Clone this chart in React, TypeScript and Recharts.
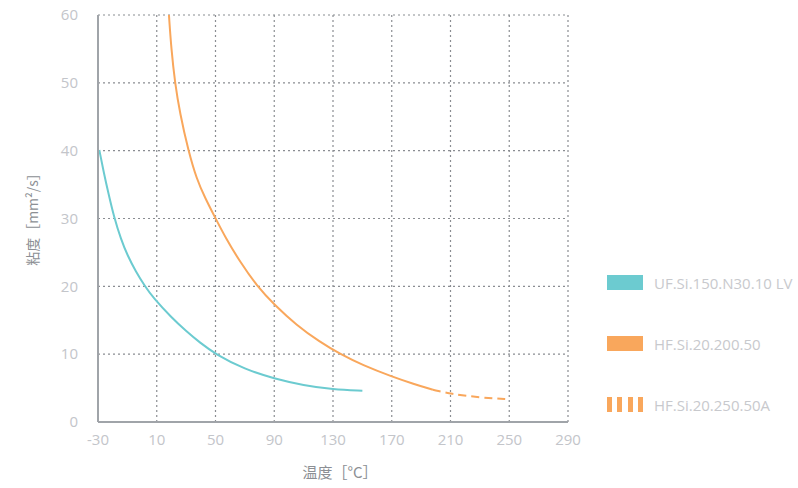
import React from "react";
import { LineChart, Line, XAxis, YAxis, CartesianGrid, Label } from "recharts";

const xTicks = [-30, 10, 50, 90, 130, 170, 210, 250, 290];
const yTicks = [0, 10, 20, 30, 40, 50, 60];

const seriesNames = ["UF.Si.150.N30.10 LV", "HF.Si.20.200.50", "HF.Si.20.250.50A"];

const ufTemp = [-29.1, -26, -23, -19.1, -14.3, -10, -4.3, 2, 7.6, 20, 30, 39.4, 50, 70, 90, 110, 130, 150];
const ufVisc = [40.1, 36.7, 33.8, 30.2, 26.9, 24.6, 22.2, 20.0, 18.3, 15.4, 13.4, 11.7, 10.0, 7.75, 6.4, 5.4, 4.8, 4.6];

const hfTemp = [18.3, 19.9, 22.4, 25.8, 31.5, 37.2, 42.8, 49.6, 56.5, 66.7, 78.4, 90, 105, 121, 135, 150, 170, 185, 198];
const hfVisc = [60, 55, 50, 45.5, 40, 35.8, 33.1, 30.2, 27.3, 23.6, 20, 17.3, 14.3, 11.8, 10.0, 8.4, 6.7, 5.6, 4.75];

const hfaTemp = [198, 210, 230, 250];
const hfaVisc = [4.75, 4.15, 3.6, 3.35];

const toData = (xs: number[], ys: number[]) => xs.map((x, i) => ({ x, y: ys[i] }));
const ufData = toData(ufTemp, ufVisc);
const hfData = toData(hfTemp, hfVisc);
const hfaData = toData(hfaTemp, hfaVisc);

const TEAL = "#6ccbd0";
const ORANGE = "#f9a75c";
const FONT = "'Open Sans', 'Noto Sans CJK SC', sans-serif";
const CJK = "'Noto Sans CJK SC', 'Open Sans', sans-serif";

const LegendBox = () => (
  <div style={{ position: "absolute", left: 607, top: 252, width: 191, fontFamily: FONT, fontSize: 15, color: "#c8c9cd" }}>
    {seriesNames.map((name, i) => (
      <div key={name} style={{ display: "flex", alignItems: "center", height: 61 }}>
        {i < 2 ? (
          <div style={{ width: 36, height: 15, background: i === 0 ? TEAL : ORANGE }} />
        ) : (
          <div style={{ width: 36, height: 15, display: "flex", justifyContent: "space-between" }}>
            {[0, 1, 2, 3].map((k) => (
              <div key={k} style={{ width: 5, height: 15, background: ORANGE }} />
            ))}
          </div>
        )}
        <span style={{ marginLeft: 11, whiteSpace: "nowrap" }}>{name}</span>
      </div>
    ))}
  </div>
);

export default function App() {
  return (
    <div style={{ position: "absolute", left: 0, top: 0, width: 798, height: 488 }}>
      <LineChart width={798} height={488} margin={{ top: 15, right: 230, left: 0, bottom: 0 }}>
        <CartesianGrid stroke="#8a8d92" strokeDasharray="2 3" strokeWidth={1.2} />
        <XAxis
          type="number"
          dataKey="x"
          domain={[-30, 290]}
          ticks={xTicks}
          allowDataOverflow
          height={66}
          tickLine={false}
          axisLine={{ stroke: "#a0a4a9", strokeWidth: 2 }}
          tick={{ fill: "#c3c5ca", fontSize: 15, fontFamily: FONT }}
          tickMargin={6}
        >
          <Label
            content={() => (
              <text x={340} y={478} textAnchor="middle" fill="#8c8f94" fontSize={15} fontFamily={CJK}>
                温度［°C］
              </text>
            )}
          />
        </XAxis>
        <YAxis
          type="number"
          domain={[0, 60]}
          ticks={yTicks}
          allowDataOverflow
          width={98}
          tickLine={false}
          axisLine={{ stroke: "#a0a4a9", strokeWidth: 2 }}
          tick={{ fill: "#c3c5ca", fontSize: 15, fontFamily: FONT }}
          tickMargin={14}
        >
          <Label
            content={() => (
              <text
                x={38}
                y={216}
                transform="rotate(-90 38 216)"
                textAnchor="middle"
                fill="#8c8f94"
                fontSize={14}
                fontFamily={CJK}
              >
                粘度［mm²/s］
              </text>
            )}
          />
        </YAxis>
        <Line data={ufData} dataKey="y" type="basis" stroke={TEAL} strokeWidth={2} dot={false} isAnimationActive={false} />
        <Line data={hfData} dataKey="y" type="basis" stroke={ORANGE} strokeWidth={2} dot={false} isAnimationActive={false} />
        <Line data={hfaData} dataKey="y" type="basis" stroke={ORANGE} strokeWidth={2} strokeDasharray="8 5" dot={false} isAnimationActive={false} />
      </LineChart>
      <LegendBox />
    </div>
  );
}
